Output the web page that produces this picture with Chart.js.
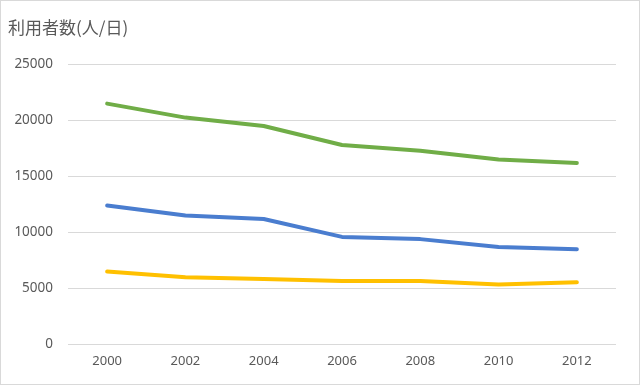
<!DOCTYPE html>
<html>
<head>
<meta charset="utf-8">
<script src="https://cdn.jsdelivr.net/npm/chart.js@4/dist/chart.umd.min.js"></script>
<style>
html,body{margin:0;padding:0;background:#fff;}
#wrap{width:640px;height:385px;position:relative;}
</style>
</head>
<body>
<div id="wrap"><canvas id="c" width="640" height="385"></canvas></div>
<script>
const years = ["2000","2002","2004","2006","2008","2010","2012"];
const seriesGreen = [21500, 20250, 19500, 17800, 17300, 16500, 16200];
const seriesBlue = [12400, 11500, 11200, 9600, 9400, 8700, 8500];
const seriesYellow = [6500, 6000, 5850, 5650, 5650, 5350, 5550];
const yTicks = [0, 5000, 10000, 15000, 20000, 25000];
const titleText = "利用者数(人/日)";

const frame = {
  id: 'frame',
  beforeDraw(chart) {
    const ctx = chart.ctx;
    ctx.save();
    ctx.fillStyle = '#ffffff';
    ctx.fillRect(0, 0, chart.width, chart.height);
    ctx.strokeStyle = '#d9d9d9';
    ctx.lineWidth = 1;
    ctx.strokeRect(0.5, 0.5, chart.width - 1, chart.height - 1);
    ctx.restore();
  }
};

const ff = "'Noto Sans', 'Noto Sans CJK JP', sans-serif";

new Chart(document.getElementById('c'), {
  type: 'line',
  data: {
    labels: years,
    datasets: [
      { data: seriesGreen, borderColor: '#70ad47', backgroundColor: '#70ad47' },
      { data: seriesBlue, borderColor: '#4a7dcf', backgroundColor: '#4a7dcf' },
      { data: seriesYellow, borderColor: '#ffc000', backgroundColor: '#ffc000' }
    ]
  },
  options: {
    responsive: false,
    animation: false,
    devicePixelRatio: 1,
    elements: {
      line: { borderWidth: 4, tension: 0, borderCapStyle: 'round', borderJoinStyle: 'round' },
      point: { radius: 0 }
    },
    layout: { padding: { left: 8, right: 24, top: 0, bottom: 15 } },
    plugins: {
      legend: { display: false },
      tooltip: { enabled: false },
      title: {
        display: true,
        text: titleText,
        align: 'start',
        color: '#595959',
        font: { family: "'Noto Sans CJK JP', sans-serif", size: 17, weight: 'normal' },
        padding: { top: 17, bottom: 27 }
      }
    },
    scales: {
      x: {
        offset: true,
        grid: { display: false },
        border: { display: false },
        ticks: { color: '#595959', font: { family: ff, size: 13 }, padding: 1, maxRotation: 0 }
      },
      y: {
        min: 0,
        max: 25000,
        afterBuildTicks(scale) { scale.ticks = yTicks.map(v => ({ value: v })); },
        afterFit(scale) { scale.width = 60; },
        grid: { color: '#d9d9d9', lineWidth: 1, drawTicks: false },
        border: { display: false },
        ticks: { color: '#595959', font: { family: ff, size: 13.5 }, padding: 15, callback: v => String(v) }
      }
    }
  },
  plugins: [frame]
});
</script>
</body>
</html>
